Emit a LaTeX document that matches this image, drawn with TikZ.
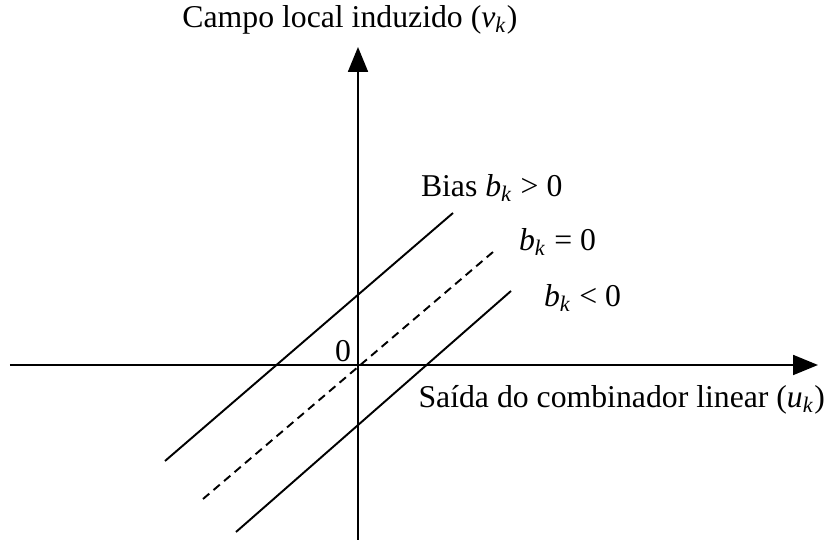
\documentclass[tikz,border=0pt]{standalone}
\usepackage{fontspec}
\setmainfont{Liberation Serif}
\usetikzlibrary{arrows.meta}
\tikzstyle{rotulo} = [inner sep=0pt, outer sep=0pt, font=\fontsize{11.5}{14}\selectfont]
\tikzstyle{eixo} = [line width=0.7pt, -{Triangle[length=9pt,width=7.2pt]}]
\tikzstyle{reta} = [line width=0.7pt]
\newcommand{\bk}{\textit{b}\textsubscript{\textit{k}}}

\begin{document}
\begin{tikzpicture}[x=0.3623pt,y=-0.3623pt]

        \useasboundingbox (0,0) rectangle (828,540);

        \coordinate (xini) at (10,365);
        \coordinate (xfim) at (818,365);
        \coordinate (yini) at (358,540);
        \coordinate (yfim) at (358,47);

        \draw[eixo] (xini) -- (xfim);
        \draw[eixo] (yini) -- (yfim);

        \coordinate (p1) at (165,461);
        \coordinate (p2) at (453,213);
        \coordinate (z1) at (203,499);
        \coordinate (z2) at (493,252);
        \coordinate (n1) at (236,532);
        \coordinate (n2) at (511,291);

        \draw[reta] (p1) -- (p2);
        \draw[reta, dash pattern=on 3pt off 2pt] (z1) -- (z2);
        \draw[reta] (n1) -- (n2);

        \node (campo) [rotulo, anchor=base] at (350,28) {Campo local induzido (\textit{v}\textsubscript{\textit{k}})};
        \node (saida) [rotulo, anchor=base east] at (825,408) {Saída do combinador linear (\textit{u}\textsubscript{\textit{k}})};
        \node (zero) [rotulo, anchor=base east] at (351,362) {0};
        \node (bpos) [rotulo, anchor=base west] at (421,197) {Bias \bk{} > 0};
        \node (bnul) [rotulo, anchor=base west] at (519,251) {\bk{} = 0};
        \node (bneg) [rotulo, anchor=base west] at (544,307) {\bk{} < 0};

    \end{tikzpicture}
\end{document}
